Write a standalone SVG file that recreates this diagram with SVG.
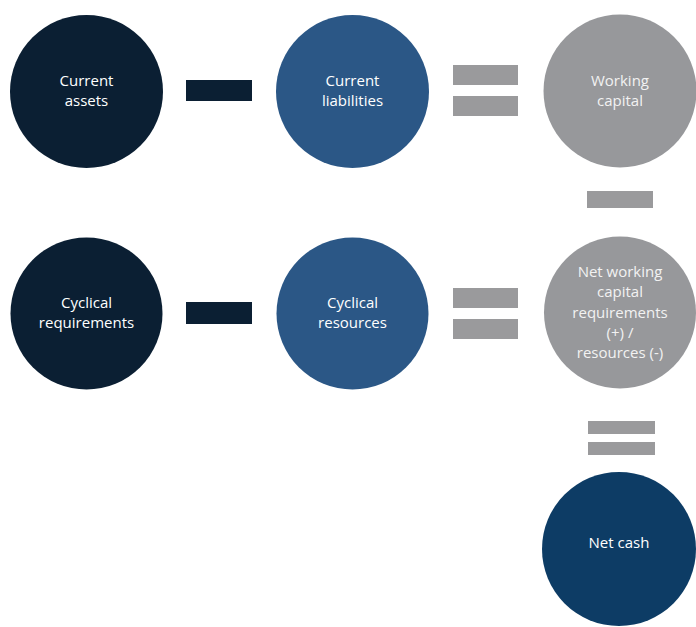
<svg xmlns="http://www.w3.org/2000/svg" width="696" height="627" viewBox="0 0 696 627">
<style>
.t{font-family:"Open Sans","Liberation Sans",sans-serif;font-size:15px;fill:#ffffff;text-anchor:middle}
.tg{fill:#f2f2f2}
.navy{fill:#0b1f33}
.blue{fill:#2b5786}
.gray{fill:#97989b}
.cash{fill:#0d3c65}
.op{fill:#9a9a9c}
</style>
<rect width="696" height="627" fill="#ffffff"/>
<g id="current-assets"><circle class="navy" cx="86.5" cy="91.5" r="76.5"/><text class="t" x="86.5" y="86">Current</text><text class="t" x="86.5" y="106">assets</text></g>
<g id="current-liabilities"><circle class="blue" cx="352.5" cy="91.5" r="76.5"/><text class="t" x="352.5" y="86">Current</text><text class="t" x="352.5" y="106">liabilities</text></g>
<g id="working-capital"><circle class="gray" cx="620" cy="91" r="76.5"/><text class="t tg" x="620" y="86">Working</text><text class="t tg" x="620" y="106">capital</text></g>
<g id="cyclical-requirements"><circle class="navy" cx="86.5" cy="313.5" r="76"/><text class="t" x="86.5" y="308">Cyclical</text><text class="t" x="86.5" y="328">requirements</text></g>
<g id="cyclical-resources"><circle class="blue" cx="352.5" cy="313.5" r="76"/><text class="t" x="352.5" y="308">Cyclical</text><text class="t" x="352.5" y="328">resources</text></g>
<g id="net-working-capital"><circle class="gray" cx="620" cy="312.5" r="76"/><text class="t tg" x="620" y="277">Net working</text><text class="t tg" x="620" y="297">capital</text><text class="t tg" x="620" y="318">requirements</text><text class="t tg" x="620" y="338">(+) /</text><text class="t tg" x="620" y="358">resources (-)</text></g>
<g id="net-cash"><circle class="cash" cx="619" cy="549" r="77"/><text class="t" x="619" y="548">Net cash</text></g>
<g id="connectors">
<rect class="navy" x="186" y="80" width="66" height="21"/>
<rect class="navy" x="186" y="302" width="66" height="22"/>
<rect class="op" x="453" y="65" width="65" height="20"/>
<rect class="op" x="453" y="96" width="65" height="20"/>
<rect class="op" x="453" y="288" width="65" height="20"/>
<rect class="op" x="453" y="319" width="65" height="20"/>
<rect class="op" x="587" y="191" width="66" height="17"/>
<rect class="op" x="588" y="421" width="67" height="13"/>
<rect class="op" x="588" y="442" width="67" height="13"/>
</g>
</svg>
